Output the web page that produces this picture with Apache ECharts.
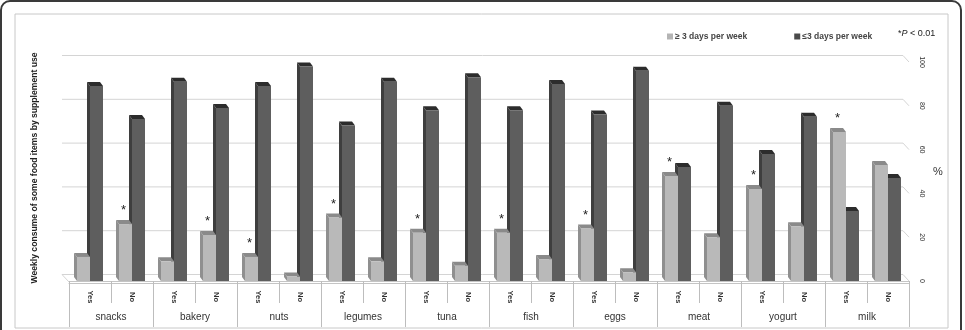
<!DOCTYPE html>
<html>
<head>
<meta charset="utf-8">
<script src="https://cdn.jsdelivr.net/npm/echarts@6/dist/echarts.min.js"></script>
<style>
  html, body { margin: 0; padding: 0; background: #fff; }
  #chart { width: 965px; height: 330px; }
</style>
</head>
<body>
<div id="chart"></div>
<script>
// food items and supplement use groups
const foods = ['snacks', 'bakery', 'nuts', 'legumes', 'tuna', 'fish', 'eggs', 'meat', 'yogurt', 'milk'];
const supplementUse = ['Yes', 'No'];
// % consuming >= 3 days per week (Yes, No for each food)
const atLeast3 = [11, 26, 9, 21, 11, 2, 29, 9, 22, 7, 22, 10, 24, 4, 48, 20, 42, 25, 68, 53];
// % consuming <= 3 days per week
const atMost3 = [89, 74, 91, 79, 89, 98, 71, 91, 78, 93, 78, 90, 76, 96, 52, 80, 58, 75, 32, 47];
// * P < 0.01 marks on the light bars
const significant = [0, 1, 0, 1, 1, 0, 1, 0, 1, 0, 1, 0, 1, 0, 1, 0, 1, 0, 1, 0];
const yTicks = [0, 20, 40, 60, 80, 100];

const categories = [];
foods.forEach(function () { supplementUse.forEach(function (s) { categories.push(s); }); });

const FONT = '"Liberation Sans Narrow", "Liberation Sans", Arial, sans-serif';
const DX = -3, DY = -4; // bar depth
const BW = 13;

function barItem(side, front, top, dark) {
  return function (params, api) {
    const i = api.value(0), v = api.value(1);
    const base = api.coord([i, 0]);
    const tp = api.coord([i, v]);
    const x0 = side < 0 ? base[0] - BW : base[0];
    const x1 = x0 + BW;
    const children = [
      // left side face
      { type: 'polygon', shape: { points: [[x0, base[1]], [x0 + DX, base[1] + DY], [x0 + DX, tp[1] + DY], [x0, tp[1]]] },
        style: { fill: dark } },
      // top face
      { type: 'polygon', shape: { points: [[x0, tp[1]], [x0 + DX, tp[1] + DY], [x1 + DX, tp[1] + DY], [x1, tp[1]]] },
        style: { fill: top } },
      // front face
      { type: 'rect', shape: { x: x0, y: tp[1], width: BW, height: base[1] - tp[1] },
        style: { fill: front } }
    ];
    if (side < 0 && significant[params.dataIndex]) {
      children.push({ type: 'text', style: { text: '*', x: x0 + BW / 2 - 2, y: tp[1] + DY - 3,
        fill: '#222', font: '13px ' + FONT, align: 'center', verticalAlign: 'bottom' } });
    }
    return { type: 'group', children: children };
  };
}

const chart = echarts.init(document.getElementById('chart'));

const option = {
  animation: false,
  graphic: [
    { type: 'rect', shape: { x: 1, y: 1, width: 960, height: 345, r: 9 },
      style: { fill: 'none', stroke: '#3a3a3a', lineWidth: 2 }, z: 0 },
    { type: 'rect', shape: { x: 15, y: 14, width: 933, height: 314 },
      style: { fill: 'none', stroke: '#c8c8c8', lineWidth: 1 }, z: 0 },
    { type: 'text', left: 898, top: 29,
      style: { text: '*{i|P} < 0.01', fill: '#222', font: '9px ' + FONT,
        rich: { i: { fontStyle: 'italic', fontSize: 9, fontFamily: FONT } } } },
    { type: 'text', x: 35, y: 168, rotation: Math.PI / 2,
      style: { text: 'Weekly consume of some food items by supplement use', fill: '#222',
        font: 'bold 8.6px "Liberation Sans", Arial, sans-serif', align: 'center', verticalAlign: 'middle' } }
  ],
  legend: {
    data: ['≥ 3 days per week', '≤3 days per week'],
    left: 662, top: 27,
    itemWidth: 6, itemHeight: 6, itemGap: 47,
    icon: 'rect',
    textStyle: { fontSize: 8.5, fontWeight: 'bold', color: '#444', fontFamily: FONT, padding: [0, 0, 0, -3] }
  },
  grid: { left: 69, right: 56, top: 62, bottom: 49 },
  xAxis: [
    {
      type: 'category', data: categories, position: 'bottom', offset: 2,
      axisLine: { lineStyle: { color: '#c4c4c4' } },
      axisTick: { show: true, interval: 0, length: 22, lineStyle: { color: '#bdbdbd', width: 1 } },
      axisLabel: { rotate: -90, fontSize: 7.5, color: '#333', margin: 14, align: 'center', verticalAlign: 'middle',
        fontFamily: FONT, fontWeight: 'bold', interval: 0 }
    },
    {
      type: 'category', data: foods, position: 'bottom', offset: 2,
      axisLine: { show: true, lineStyle: { color: '#c4c4c4' } },
      axisTick: { show: true, interval: 0, length: 44, lineStyle: { color: '#bdbdbd', width: 1 } },
      axisLabel: { fontSize: 10, color: '#333', margin: 29, fontFamily: FONT, interval: 0 }
    }
  ],
  yAxis: {
    type: 'value', position: 'right', min: 0, max: 100, interval: 20,
    axisLine: { show: false }, axisTick: { show: false }, splitLine: { show: false },
    axisLabel: { rotate: -90, fontSize: 7, color: '#333', margin: 13, align: 'center', verticalAlign: 'middle',
      fontFamily: FONT },
    name: '%', nameLocation: 'middle', nameRotate: 0, nameGap: 24,
    nameTextStyle: { fontSize: 11, color: '#333' }
  },
  series: [
    {
      name: 'wall', type: 'custom', silent: true, legendHoverLink: false,
      data: yTicks.map(function (t) { return [0, t]; }),
      encode: { x: 0, y: 1 },
      renderItem: function (params, api) {
        const cs = params.coordSys;
        const y = api.coord([0, api.value(1)])[1];
        const pts = [[cs.x - 7, y - 6.5], [cs.x + cs.width - 6, y - 6.5], [cs.x + cs.width, y]];
        if (api.value(1) === 0) pts.unshift([cs.x, y + 1]);
        return { type: 'polyline', shape: { points: pts }, style: { stroke: '#d4d4d4', lineWidth: 1, fill: null } };
      },
      z: 1
    },
    {
      name: '≤3 days per week', type: 'custom',
      itemStyle: { color: '#4a4a4a' },
      data: atMost3.map(function (v, i) { return [i, v]; }),
      encode: { x: 0, y: 1 },
      renderItem: barItem(1, '#5e5e5e', '#2c2c2c', '#3e3e3e'),
      z: 2
    },
    {
      name: '≥ 3 days per week', type: 'custom',
      itemStyle: { color: '#b4b4b4' },
      data: atLeast3.map(function (v, i) { return [i, v]; }),
      encode: { x: 0, y: 1 },
      renderItem: barItem(-1, '#b9b9b9', '#8a8a8a', '#8f8f8f'),
      z: 3
    }
  ]
};

chart.setOption(option);
</script>
</body>
</html>
